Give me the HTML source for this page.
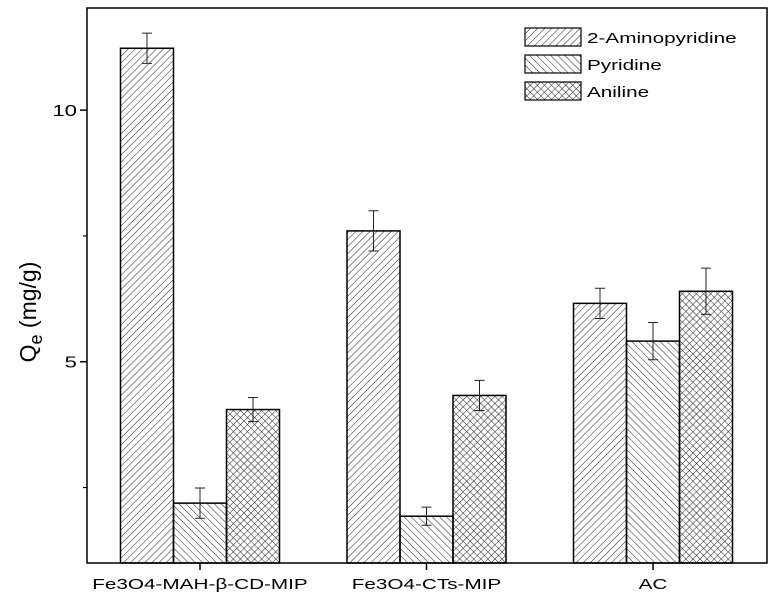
<!DOCTYPE html>
<html><head><meta charset="utf-8"><style>
body{margin:0;background:#fff;}
svg{display:block;font-family:"Liberation Sans",Arial,sans-serif;}
</style></head><body>
<svg id="chart" width="775" height="609" viewBox="0 0 775 609">
<defs>
<pattern id="hFwd" patternUnits="userSpaceOnUse" width="5" height="5" patternTransform="rotate(45)"><line x1="0" y1="0" x2="0" y2="5" stroke="#222" stroke-width="1"/></pattern>
<pattern id="hBack" patternUnits="userSpaceOnUse" width="5" height="5" patternTransform="rotate(-45)"><line x1="0" y1="0" x2="0" y2="5" stroke="#222" stroke-width="1"/></pattern>
<pattern id="hCross" patternUnits="userSpaceOnUse" width="5" height="5" patternTransform="rotate(45)"><line x1="0" y1="0" x2="0" y2="5" stroke="#222" stroke-width="1"/><line x1="0" y1="0" x2="5" y2="0" stroke="#222" stroke-width="1"/></pattern>
</defs>
<g id="bars"></g>
<g id="errs"></g>
<rect x="87" y="8" width="680" height="555" fill="none" stroke="#000" stroke-width="1.5"/>
<g id="yticks"></g>
<g id="xticks"></g>
<text transform="translate(36,312) rotate(-90)" text-anchor="middle" font-size="23">Q<tspan font-size="18" dy="6">e</tspan><tspan dy="-6"> (mg/g)</tspan></text>
<g id="legend"></g>
</svg>
<script>
const categories = ["Fe3O4-MAH-\u03b2-CD-MIP", "Fe3O4-CTs-MIP", "AC"];
const seriesNames = ["2-Aminopyridine", "Pyridine", "Aniline"];
const aminopyridine = [11.23, 7.6, 6.16];
const pyridine = [2.19, 1.93, 5.41];
const aniline = [4.05, 4.33, 6.40];
const aminopyridineErr = [0.3, 0.4, 0.3];
const pyridineErr = [0.3, 0.18, 0.37];
const anilineErr = [0.24, 0.3, 0.46];
const yTicks = [5, 10];
const yMinorTicks = [2.5, 7.5];

const series = [aminopyridine, pyridine, aniline];
const errs = [aminopyridineErr, pyridineErr, anilineErr];
const fills = ["url(#hFwd)", "url(#hBack)", "url(#hCross)"];
const NS = "http://www.w3.org/2000/svg";
const yMin = 1, yMax = 12.03, plotTop = 8, plotBottom = 563;
function y(v){ return plotBottom - (v - yMin) / (yMax - yMin) * (plotBottom - plotTop); }
const x0 = 87;
function xc(i){ return 200 + i * 226.5; }
const bw = 53;
const stretch = 1.38;
function mk(tag, attrs, parent){ const e = document.createElementNS(NS, tag); for (const k in attrs) e.setAttribute(k, attrs[k]); parent.appendChild(e); return e; }
function widen(t){ const w = t.getComputedTextLength(); t.setAttribute('textLength', (w * stretch).toFixed(1)); t.setAttribute('lengthAdjust', 'spacingAndGlyphs'); }
const gb = document.getElementById('bars'), ge = document.getElementById('errs');
series.forEach((s, si) => {
  s.forEach((v, ci) => {
    const bx = xc(ci) - 1.5 * bw + si * bw;
    const r = mk('rect', {x: bx, y: y(v), width: bw, height: plotBottom - y(v), fill: fills[si], stroke: '#000', 'stroke-width': 1.5}, gb);
    
    
    const cx = bx + bw / 2, e = errs[si][ci];
    const p = mk('path', {d: `M${cx-5},${y(v+e)}H${cx+5}M${cx},${y(v+e)}V${y(v-e)}M${cx-5},${y(v-e)}H${cx+5}`, stroke: '#222', 'stroke-width': 1, fill: 'none'}, ge);
    
    
  });
});
const gy = document.getElementById('yticks');
yTicks.forEach(t => {
  mk('line', {x1: x0 - 7, x2: x0, y1: y(t), y2: y(t), stroke: '#000', 'stroke-width': 1.5}, gy);
  const tx = mk('text', {x: x0 - 10, y: y(t) + 6, 'text-anchor': 'end', 'font-size': 16}, gy);
  tx.textContent = t;
  
  
  widen(tx);
});
yMinorTicks.forEach(t => { mk('line', {x1: x0 - 4, x2: x0, y1: y(t), y2: y(t), stroke: '#000', 'stroke-width': 1.2}, gy); });
const gx = document.getElementById('xticks');
categories.forEach((c, i) => {
  mk('line', {x1: xc(i), x2: xc(i), y1: plotBottom, y2: plotBottom + 7, stroke: '#000', 'stroke-width': 1.5}, gx);
  const tx = mk('text', {x: xc(i), y: plotBottom + 26, 'text-anchor': 'middle', 'font-size': 15}, gx);
  tx.textContent = c;
  
  
  widen(tx);
});
const gl = document.getElementById('legend');
seriesNames.forEach((n, i) => {
  const yy = 28 + i * 27;
  const r = mk('rect', {x: 525, y: yy, width: 56, height: 18, fill: fills[i], stroke: '#000', 'stroke-width': 1.2}, gl);
  
  
  const t = mk('text', {x: 587, y: yy + 15, 'font-size': 15}, gl);
  t.textContent = n;
  
  
  widen(t);
});
</script>
</body></html>
